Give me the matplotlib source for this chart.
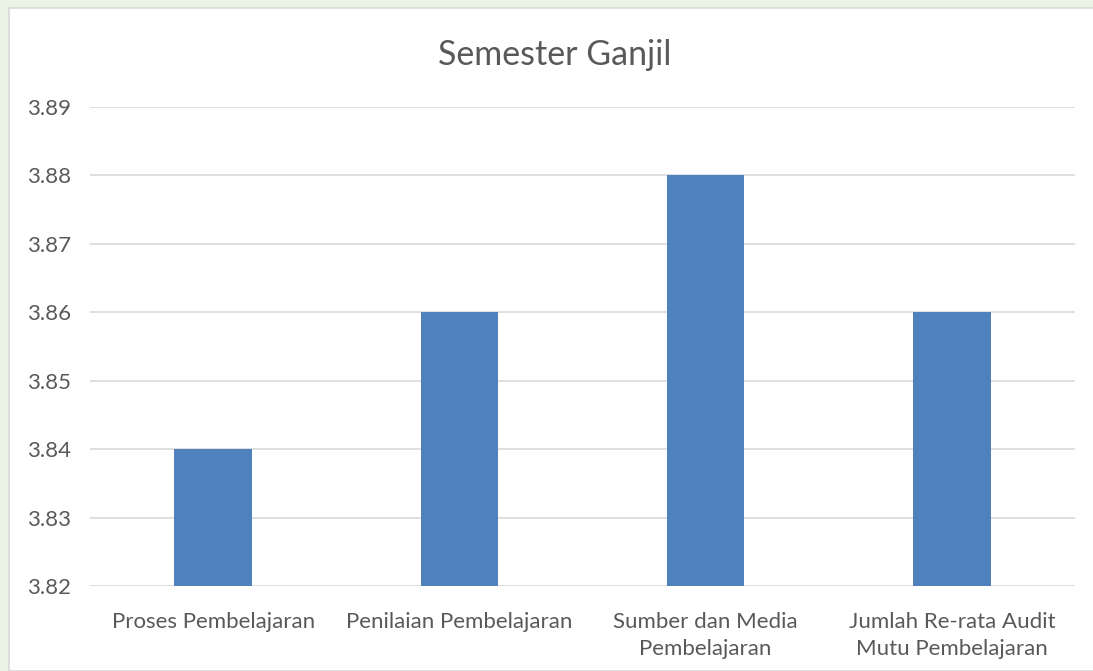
import matplotlib.pyplot as plt
from matplotlib.patches import Rectangle

kategori = ['Proses Pembelajaran', 'Penilaian Pembelajaran',
            'Sumber dan Media\nPembelajaran', 'Jumlah Re-rata Audit\nMutu Pembelajaran']
nilai = [3.84, 3.86, 3.88, 3.86]
yticks = [3.82, 3.83, 3.84, 3.85, 3.86, 3.87, 3.88, 3.89]

plt.rcParams['font.family'] = ['Lato', 'DejaVu Sans']
teks = '#595959'

fig = plt.figure(figsize=(10.93, 6.71), dpi=100)
fig.patch.set_facecolor('#eaf4e4')
# kotak chart putih
kotak = Rectangle((9/1093, 0), 1, 1 - 8/671, transform=fig.transFigure,
                  facecolor='white', edgecolor='#d9d9d9', lw=1.2, zorder=-5)
fig.add_artist(kotak)

ax = fig.add_axes([90/1093, 1 - 586/671, 985/1093, (586 - 107)/671])
ax.set_zorder(5)
ax.set_facecolor('none')
x = range(len(kategori))
ax.bar(x, nilai, width=0.315, color='#4f81bd', zorder=2)
ax.set_ylim(3.82, 3.89)
ax.set_xlim(-0.5, len(kategori) - 0.5)
ax.set_yticks(yticks)
ax.set_yticklabels(['%.2f' % v for v in yticks])
ax.set_xticks(list(x))
ax.set_xticklabels(kategori, va='top', linespacing=1.4)
ax.tick_params(axis='both', length=0, colors=teks, labelsize=16)
ax.tick_params(axis='x', pad=19)
ax.tick_params(axis='y', pad=45)
for lbl in ax.get_yticklabels():
    lbl.set_horizontalalignment('left')
ax.grid(axis='y', color='#d9d9d9', lw=1.2, zorder=0)
for s in ax.spines.values():
    s.set_visible(False)

fig.text(555/1093, 1 - 55/671, 'Semester Ganjil', ha='center', va='center',
         fontsize=24.5, color=teks, zorder=6)

plt.savefig('out.png', dpi=100)
